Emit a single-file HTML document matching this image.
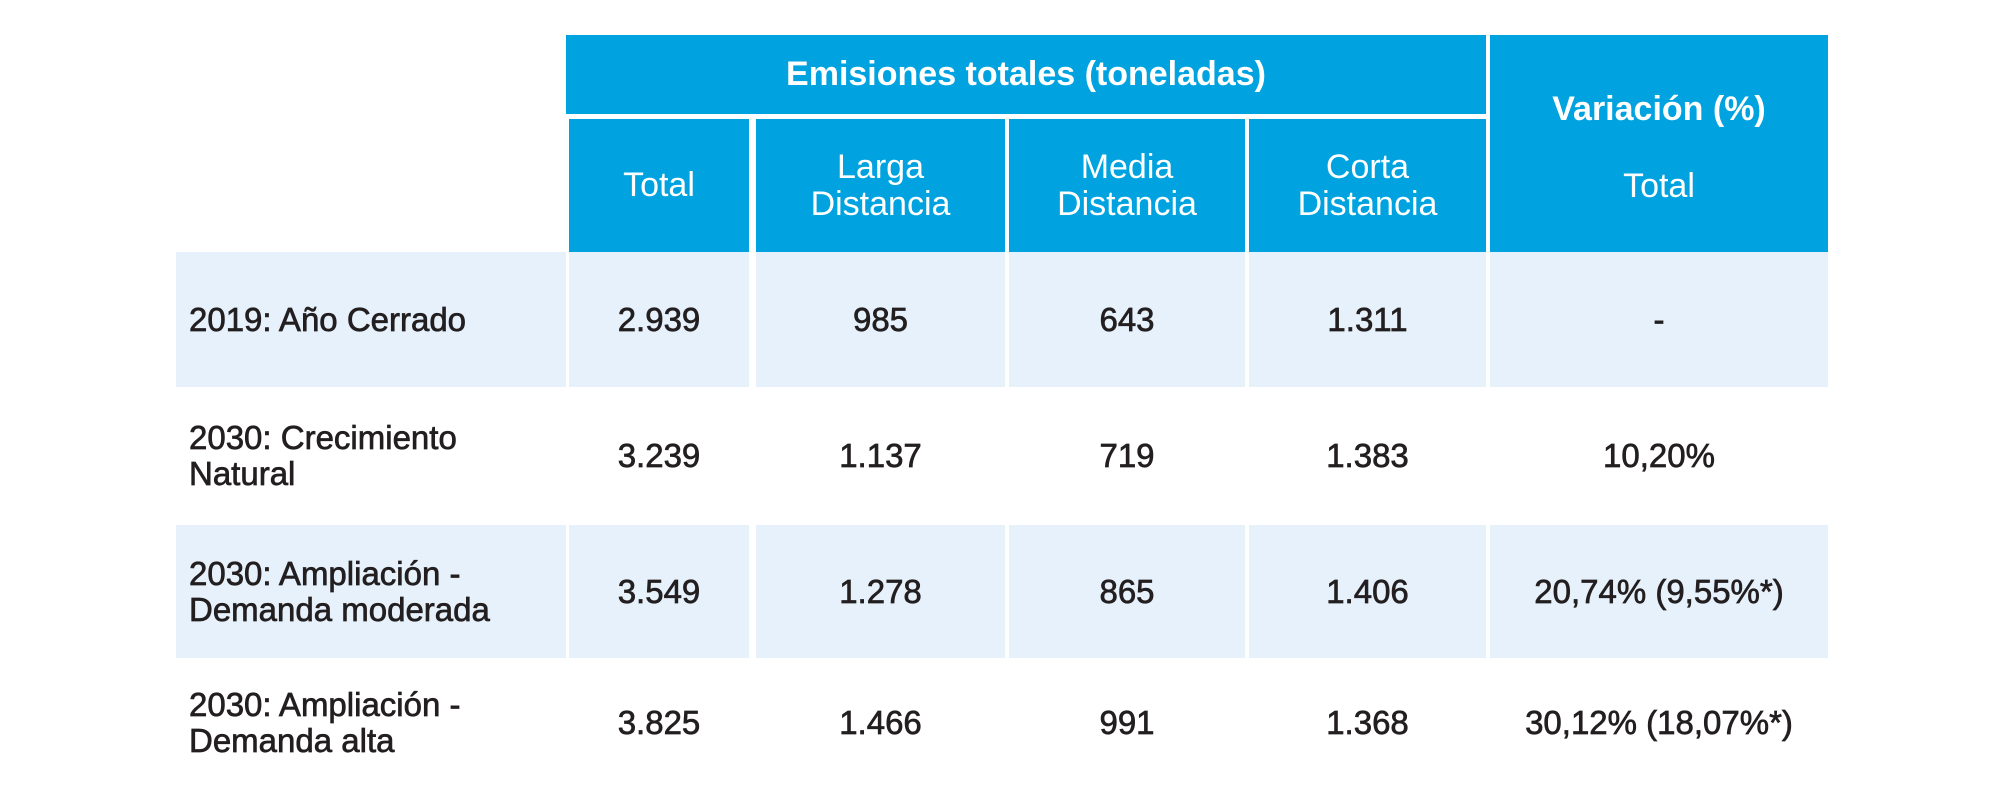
<!DOCTYPE html>
<html><head><meta charset="utf-8"><style>
body{margin:0;width:2000px;height:795px;background:#fff;position:relative;overflow:hidden;font-family:"Liberation Sans",sans-serif;}
.c{position:absolute;display:flex;align-items:center;justify-content:center;text-align:center;box-sizing:border-box;line-height:1.08;}
.h{background:#00a3df;color:#fff;font-size:34px;}
.b{color:#231f20;font-size:33px;-webkit-text-stroke:0.7px #231f20;}
.l{justify-content:flex-start;text-align:left;padding-left:13px;}
.alt{background:#e6f1fb;}
</style></head><body>
<div class="c h" style="left:566px;top:35px;width:920px;height:79px;font-weight:bold;">Emisiones totales (toneladas)</div>
<div class="c h" style="left:1490px;top:35px;width:338px;height:217px;flex-direction:column;"><div style="font-weight:bold;margin-bottom:40px;margin-top:8px">Variación (%)</div><div>Total</div></div>
<div class="c h" style="left:569px;top:119px;width:180px;height:133px;">Total</div>
<div class="c h" style="left:756px;top:119px;width:249px;height:133px;">Larga<br>Distancia</div>
<div class="c h" style="left:1009px;top:119px;width:236px;height:133px;">Media<br>Distancia</div>
<div class="c h" style="left:1249px;top:119px;width:237px;height:133px;">Corta<br>Distancia</div>
<div id="body"></div>
<script>
const rowLabels=["2019: Año Cerrado","2030: Crecimiento<br>Natural","2030: Ampliación -<br>Demanda moderada","2030: Ampliación -<br>Demanda alta"];
const totals=["2.939","3.239","3.549","3.825"];
const larga=["985","1.137","1.278","1.466"];
const media=["643","719","865","991"];
const corta=["1.311","1.383","1.406","1.368"];
const variacion=["-","10,20%","20,74% (9,55%*)","30,12% (18,07%*)"];
const rowsY=[[252,138],[390,135],[525,136],[663,122]];
const cols=[[176,390],[569,180],[756,249],[1009,236],[1249,237],[1490,338]];
const names=["row-label","total","larga","media","corta","variacion"];
const body=document.getElementById('body');
for(let r=0;r<4;r++){
  const vals=[rowLabels[r],totals[r],larga[r],media[r],corta[r],variacion[r]];
  for(let c=0;c<6;c++){
    const d=document.createElement('div');
    d.className='c b'+(c===0?' l':'')+(r%2===0?' alt':'');
    const x=cols[c][0], w=c===0?(566-176):cols[c][1];
    d.style.left=x+'px';d.style.top=rowsY[r][0]+'px';d.style.width=w+'px';d.style.height=(rowsY[r][1]-3)+'px';
    d.innerHTML=vals[c];
    
    
    body.appendChild(d);
  }
}
</script>
</body></html>
